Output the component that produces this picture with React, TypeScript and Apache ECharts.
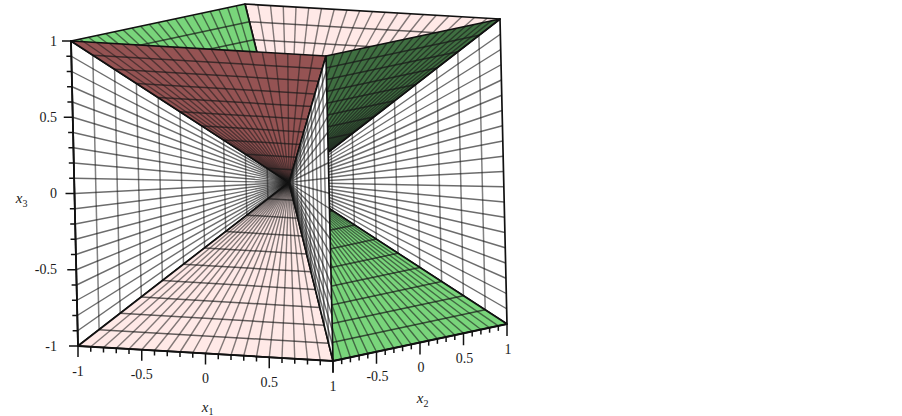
import React, { useEffect, useRef } from "react";
import * as echarts from "echarts";

// Faces of the tunnel: each is a cube edge [x1, x2, x3] -> [x1, x2, x3] whose fan closes at the cube centre.
const faceStarts = [
  [-1, 1, 1], [-1, -1, 1], [1, 1, 1], [1, -1, -1], [1, -1, 1], [-1, -1, 1], [-1, -1, -1], [-1, -1, 1], [1, -1, 1],
];
const faceEnds = [
  [1, 1, 1], [-1, 1, 1], [1, 1, -1], [1, 1, -1], [1, 1, 1], [-1, -1, -1], [1, -1, -1], [1, -1, 1], [1, -1, -1],
];
const faceKinds = ["pink", "green", "white", "green", "darkGreen", "white", "pink", "maroon", "white"];
const tickValues = [-1, -0.9, -0.8, -0.7, -0.6, -0.5, -0.4, -0.3, -0.2, -0.1, 0, 0.1, 0.2, 0.3, 0.4, 0.5, 0.6, 0.7, 0.8, 0.9, 1];
const majorTicks = [-1, -0.5, 0, 0.5, 1];
const x1TickLabels = ["-1", "-0.5", "0", "0.5", "1"];
const x2TickLabels = ["", "-0.5", "0", "0.5", "1"];
const x3TickLabels = ["-1", "-0.5", "0", "0.5", "1"];

const FAN_STEPS = 20;
const CROSS_STEPS = 10;
const FILL: Record<string, string> = {
  pink: "#ffe9e7",
  green: "#79d57b",
  white: "#ffffff",
  darkGreen: "#3f6f41",
  maroon: "#955353",
};
// [fan alpha, cross alpha]
const LINE_ALPHA: Record<string, number[]> = {
  pink: [0.55, 0.68],
  green: [0.58, 0.72],
  white: [0.64, 0.55],
  darkGreen: [0.62, 0.75],
  maroon: [0.55, 0.7],
};
const SERIF = '"Liberation Serif", "Times New Roman", serif';

// Orthographic view of the cube, in picture units
const project = (p: number[]): number[] => [
  289 + 127.5 * p[0] + 87 * p[1] - 3.5 * p[2],
  182.5 + 7.5 * p[0] - 18.5 * p[1] - 152.5 * p[2],
];
const mix = (a: number[], b: number[], t: number) => [a[0] + (b[0] - a[0]) * t, a[1] + (b[1] - a[1]) * t];

function renderFace(params: any, api: any) {
  const i = params.dataIndex;
  const c = (p: number[]) => api.coord(p);
  const a = c(project(faceStarts[i]));
  const b = c(project(faceEnds[i]));
  const o = c(project([0, 0, 0]));
  const kind = faceKinds[i];
  const alpha = LINE_ALPHA[kind];
  const kids: any[] = [
    { type: "polygon", shape: { points: [a, b, o] }, style: { fill: FILL[kind], stroke: "none" } },
  ];
  for (let k = 1; k < FAN_STEPS; k++) {
    const p = mix(a, b, k / FAN_STEPS);
    kids.push({
      type: "line",
      shape: { x1: p[0], y1: p[1], x2: o[0], y2: o[1] },
      style: { stroke: `rgba(25,25,25,${alpha[0]})`, lineWidth: 1.4, fill: "none" },
    });
  }
  for (let k = 1; k < CROSS_STEPS; k++) {
    const p = mix(a, o, k / CROSS_STEPS);
    const q = mix(b, o, k / CROSS_STEPS);
    kids.push({
      type: "line",
      shape: { x1: p[0], y1: p[1], x2: q[0], y2: q[1] },
      style: { stroke: `rgba(25,25,25,${alpha[1]})`, lineWidth: 1.5, fill: "none" },
    });
  }
  kids.push({
    type: "polygon",
    shape: { points: [a, b, o] },
    style: { fill: "none", stroke: "#111", lineWidth: 1.7, lineJoin: "round" },
  });
  return { type: "group", children: kids };
}

function tickLine(api: any, from: number[], to: number[], w = 1.5) {
  const p = api.coord(from);
  const q = api.coord(to);
  return { type: "line", shape: { x1: p[0], y1: p[1], x2: q[0], y2: q[1] }, style: { stroke: "#111", lineWidth: w, fill: "none" } };
}
function label(api: any, text: string, at: number[], align = "center", size = 14, italic = false) {
  const p = api.coord(at);
  return {
    type: "text",
    style: {
      text, x: p[0], y: p[1], fill: "#1a1a1a", align, verticalAlign: "middle",
      fontFamily: SERIF, fontSize: size, fontStyle: italic ? "italic" : "normal",
    },
  };
}

function renderAxes(_params: any, api: any) {
  const kids: any[] = [];
  const onX1 = (v: number) => project([v, -1, -1]);
  const onX2 = (v: number) => project([1, v, -1]);
  const onX3 = (v: number) => project([-1, -1, v]);
  kids.push(tickLine(api, onX1(-1), onX1(1), 1.8));
  kids.push(tickLine(api, onX2(-1), onX2(1), 1.8));
  kids.push(tickLine(api, onX3(-1), onX3(1), 1.8));
  tickValues.forEach((v) => {
    const major = majorTicks.includes(v);
    const d = major ? 11 : 5;
    const a = onX1(v);
    const b = onX2(v);
    const z = onX3(v);
    kids.push(tickLine(api, a, [a[0], a[1] + d]));
    kids.push(tickLine(api, b, [b[0], b[1] + d + (major ? 1 : 0)]));
    kids.push(tickLine(api, z, [z[0] - (major ? 9 : 5), z[1]]));
  });
  majorTicks.forEach((v, i) => {
    const a = onX1(v);
    const b = onX2(v);
    const z = onX3(v);
    kids.push(label(api, x1TickLabels[i], [a[0], a[1] + 25]));
    if (x2TickLabels[i]) kids.push(label(api, x2TickLabels[i], [b[0] + 1, b[1] + 25]));
    kids.push(label(api, x3TickLabels[i], [57, z[1]], "right"));
  });
  kids.push(label(api, "x", [205, 407], "center", 15, true));
  kids.push(label(api, "1", [211, 411], "center", 10));
  kids.push(label(api, "x", [420, 398], "center", 15, true));
  kids.push(label(api, "2", [426, 403], "center", 10));
  kids.push(label(api, "x", [19, 198], "center", 15, true));
  kids.push(label(api, "3", [25, 203], "center", 10));
  return { type: "group", children: kids };
}

export default function App() {
  const ref = useRef<HTMLDivElement>(null);
  useEffect(() => {
    const chart = echarts.init(ref.current!, undefined, { renderer: "svg" });
    chart.setOption({
      animation: false,
      backgroundColor: "#ffffff",
      grid: { left: 0, right: 0, top: 0, bottom: 0 },
      xAxis: { type: "value", min: 0, max: 902, show: false },
      yAxis: { type: "value", min: 0, max: 416, inverse: true, show: false },
      series: [
        {
          type: "custom",
          coordinateSystem: "cartesian2d",
          clip: false,
          silent: true,
          renderItem: renderFace,
          data: faceKinds.map((_, i) => [i, i]),
        },
        {
          type: "custom",
          coordinateSystem: "cartesian2d",
          clip: false,
          silent: true,
          renderItem: renderAxes,
          data: [[0, 0]],
        },
      ],
    });
    return () => chart.dispose();
  }, []);
  return <div ref={ref} style={{ position: "fixed", left: 0, top: 0, width: 902, height: 416 }} />;
}
